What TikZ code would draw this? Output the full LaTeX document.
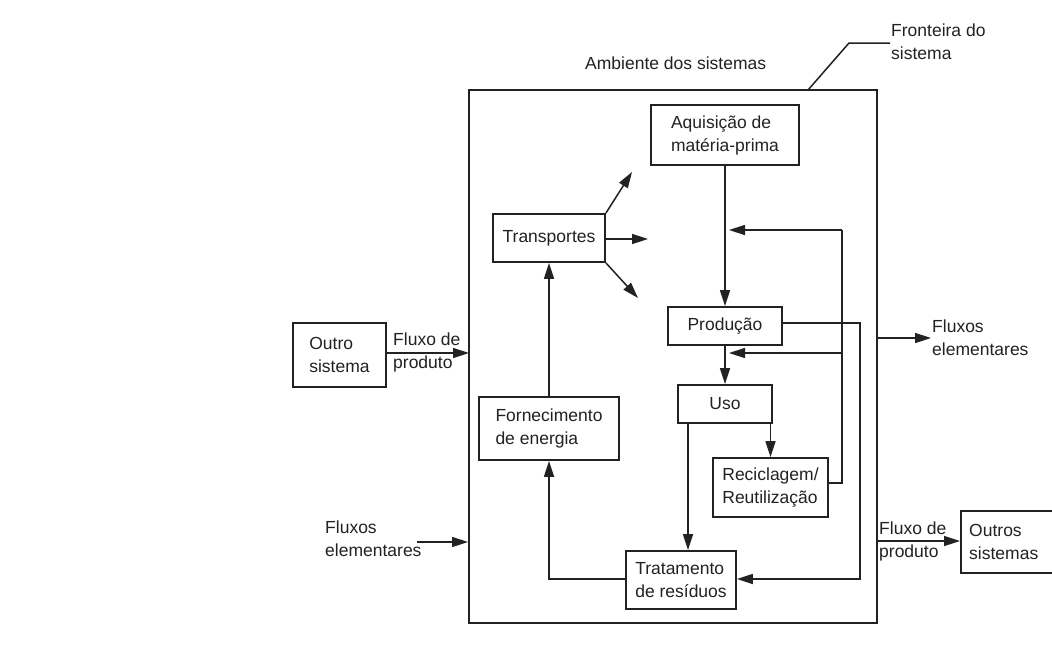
\documentclass[tikz,border=0pt]{standalone}
\usepackage{fontspec}
\setmainfont{Liberation Sans}
\usetikzlibrary{arrows.meta}
\definecolor{ink}{HTML}{222222}
\tikzset{
  every node/.style={font=\fontsize{17.5}{23}\selectfont, text=ink},
  blk/.style={draw=ink, line width=1.8pt, rectangle, inner sep=0pt, align=left},
  lbl/.style={align=left, inner sep=0pt, anchor=west},
  wire/.style={draw=ink, line width=1.5pt},
  flow/.style={wire, -{Triangle[length=16pt,width=10pt]}},
}
\begin{document}
\begin{tikzpicture}[x=1pt,y=-1pt]
\useasboundingbox (0,0) rectangle (1052,664);
\fill[white] (0,0) rectangle (1052,664);

% system boundary and its labels
\draw[draw=ink, line width=1.8pt] (469,90) rectangle (877,623);
\node[lbl] (amb) at (585,63) {Ambiente dos sistemas};
\coordinate (fb) at (808,90);
\coordinate (fk) at (849,43);
\coordinate (fe) at (890,43);
\draw[wire] (fb) -- (fk) -- (fe);
\node[lbl] (front) at (891,42) {Fronteira do\\sistema};

% process boxes
\node[blk, minimum width=148pt, minimum height=60pt] (aq) at (725,135) {Aquisição de\\matéria-prima};
\node[blk, minimum width=112pt, minimum height=48pt] (tr) at (549,238) {Transportes};
\node[blk, minimum width=114pt, minimum height=38pt] (pr) at (725,326) {Produção};
\node[blk, minimum width=94pt, minimum height=38pt] (uso) at (725,404) {Uso};
\node[blk, minimum width=115pt, minimum height=59pt] (rec) at (770.5,487.5) {Reciclagem/\\Reutilização};
\node[blk, minimum width=110pt, minimum height=58pt] (trat) at (681,580) {Tratamento\\de resíduos};
\node[blk, minimum width=140pt, minimum height=63pt] (forn) at (549,428.5) {Fornecimento\\de energia};

% neighbouring systems
\node[blk, minimum width=93pt, minimum height=64pt] (outro) at (339.5,355) {Outro\\sistema};
\node[lbl] (outros) at (969,542) {Outros\\sistemas};
\draw[draw=ink, line width=1.8pt] (1053,511) -- (961,511) -- (961,573) -- (1053,573);

% transport outputs
\coordinate (t1) at (632,172);
\coordinate (t2) at (648,239);
\coordinate (t3) at (638,298);
\draw[flow] (tr.north east) -- (t1);
\draw[flow] (tr.east |- t2) -- (t2);
\draw[flow] (tr.south east) -- (t3);

% main chain
\draw[flow] (aq.south) -- (pr.north);
\draw[flow] (pr.south) -- (uso.north);
\draw[flow] (uso.south -| rec.north) -- (rec.north);
\draw[flow] (uso.south -| 688,0) -- (trat.north -| 688,0);
\draw[flow] (trat.west |- 0,579) -- (549,579) -- (forn.south);
\draw[flow] (forn.north) -- (tr.south);

% recycling loop
\coordinate (ra) at (842,483);
\coordinate (rb) at (842,230);
\coordinate (rc) at (842,353);
\coordinate (ta) at (729,230);
\coordinate (tb) at (729,353);
\draw[wire] (rec.east |- ra) -- (ra) -- (rb);
\draw[flow] (rb) -- (ta);
\draw[flow] (rc) -- (tb);

% production bypass to waste treatment
\coordinate (pa) at (860,323);
\coordinate (pb) at (860,579);
\draw[flow] (pr.east |- pa) -- (pa) -- (pb) -- (trat.east |- pb);

% flows across the boundary
\coordinate (bin) at (469,353);
\draw[flow] (outro.east |- bin) -- (bin);
\node[lbl] (fpa) at (393,352) {Fluxo de\\produto};

\coordinate (ea) at (417,542);
\coordinate (eb) at (468,542);
\draw[flow] (ea) -- (eb);
\node[lbl] (fel) at (325,539) {Fluxos\\elementares};

\coordinate (xa) at (877,338);
\coordinate (xb) at (931,338);
\draw[flow] (xa) -- (xb);
\node[lbl] (fer) at (932,338) {Fluxos\\elementares};

\coordinate (oa) at (877,541);
\coordinate (ob) at (960,541);
\draw[flow] (oa) -- (ob);
\node[lbl] (fpc) at (879,541) {Fluxo de\\produto};
\end{tikzpicture}
\end{document}
